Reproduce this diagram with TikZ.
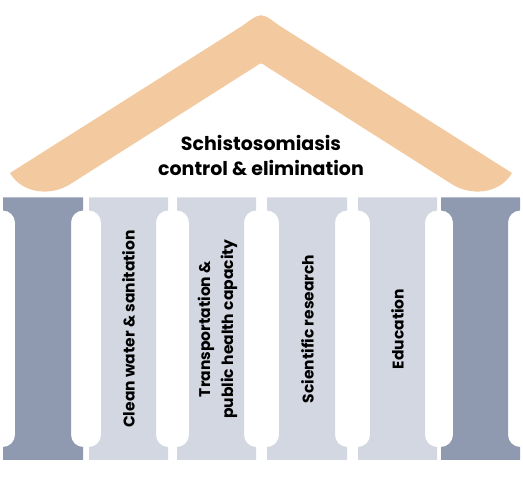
\documentclass[tikz,border=0pt]{standalone}
\usepackage{fontspec}
\setmainfont{Poppins}
\definecolor{roofcol}{RGB}{243,201,160}
\definecolor{pillardark}{RGB}{143,154,177}
\definecolor{pillarlight}{RGB}{211,215,225}
\begin{document}
\begin{tikzpicture}[x=1pt,y=1pt, every node/.style={font=\bfseries\fontsize{15.5}{23}\selectfont, align=center}]
        \useasboundingbox (0,0) rectangle (523,477);
        % roof
        \fill[roofcol] (10,304) -- (243,451.6) .. controls (261,465) .. (279,451.6) -- (512,304)
            .. controls (500,283) and (470,280) .. (450,294) -- (266,410.8) .. controls (261,414.5) .. (256,410.8)
            -- (72,294) .. controls (52,280) and (22,283) .. cycle;
        % pillars
        \foreach \xa/\xb/\col in {3/83/pillardark, 89/168/pillarlight, 177/256/pillarlight,
                                  267/347/pillarlight, 358/437/pillarlight, 441/520/pillardark}{
            \fill[\col] (\xa,279.5) -- (\xb,279.5) -- (\xb,266.5) arc[start angle=90,end angle=180,radius=12pt]
                -- ({\xb-12},42) arc[start angle=180,end angle=270,radius=12pt] -- (\xb,17) -- (\xa,17)
                -- (\xa,30) arc[start angle=-90,end angle=0,radius=12pt]
                -- ({\xa+12},254.5) arc[start angle=0,end angle=90,radius=12pt] -- cycle;
        }
        \node[font=\bfseries\fontsize{19}{25}\selectfont] (goal) at (261,321.5) {Schistosomiasis\\control \& elimination};
        \node[rotate=90] (water) at (128.5,148) {Clean water \& sanitation};
        \node[rotate=90] (transport) at (217.5,148) {Transportation \&\\public health capacity};
        \node[rotate=90] (research) at (307.5,148) {Scientific research};
        \node[rotate=90] (education) at (397.5,148) {Education};
    \end{tikzpicture}
\end{document}
